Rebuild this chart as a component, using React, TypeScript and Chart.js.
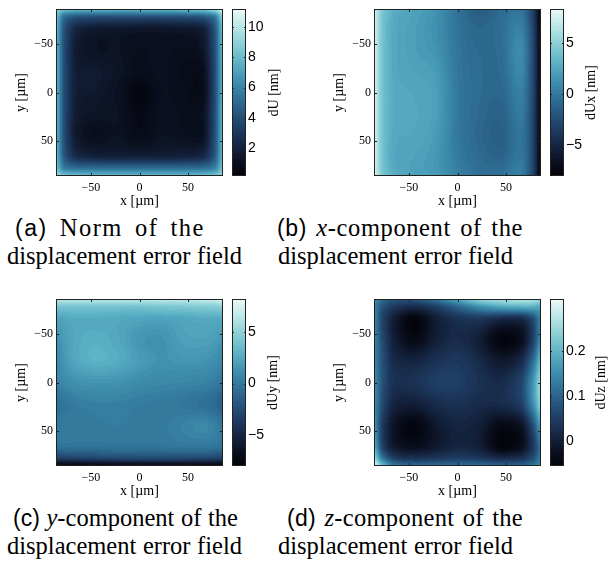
import React, { useEffect, useRef } from 'react';
import { Chart, registerables } from 'chart.js';
Chart.register(...registerables);

// ---- data ----
const gridX = [-86, -78, -66, -45, -22, 0, 22, 45, 66, 78, 86];
const gridY = [-86, -78, -66, -45, -22, 0, 22, 45, 66, 78, 86];
const axisTicks = [-50, 0, 50];
const axisRange = [-86, 86];

// rows: y from -86 (top) to 86 (bottom); cols: x from -86 to 86
const dU = [
  [9.0, 8.2, 7.8, 7.7, 7.7, 7.7, 7.8, 8.0, 8.4, 9.2, 10.4],
  [8.2, 5.2, 4.2, 4.0, 3.9, 3.9, 3.9, 4.0, 4.3, 5.6, 9.0],
  [7.8, 4.2, 2.2, 1.6, 1.5, 1.4, 1.4, 1.5, 1.9, 4.3, 8.2],
  [7.7, 4.0, 1.7, 1.2, 1.2, 1.0, 1.1, 1.0, 1.4, 4.1, 7.9],
  [7.7, 4.0, 1.8, 1.6, 1.3, 0.9, 1.1, 0.8, 1.0, 3.9, 7.9],
  [7.7, 4.0, 1.8, 1.5, 1.1, 0.4, 1.0, 0.9, 0.9, 3.9, 7.9],
  [7.7, 4.0, 1.7, 1.3, 1.2, 0.6, 1.1, 1.0, 1.2, 4.0, 7.9],
  [7.7, 4.0, 1.6, 1.0, 1.2, 0.8, 1.2, 1.1, 1.2, 4.1, 7.9],
  [7.8, 4.4, 2.5, 2.0, 1.9, 1.9, 1.9, 2.0, 2.4, 4.5, 8.0],
  [8.3, 5.8, 5.2, 5.1, 5.1, 5.1, 5.1, 5.1, 5.2, 6.0, 8.4],
  [9.2, 8.4, 8.0, 7.9, 7.9, 7.9, 7.9, 7.9, 8.0, 8.4, 9.2],
];
const dUx = [
  [7.5, 4.5, 2.9, 2.2, 1.4, -0.3, -1.6, -0.8, -0.3, -3.5, -7.8],
  [7.5, 4.3, 2.7, 2.1, 1.3, -0.4, -1.4, -0.7, -0.1, -3.3, -7.8],
  [7.5, 4.3, 2.6, 2.0, 1.2, -0.3, -1.1, -0.6, 0.4, -3.0, -7.6],
  [7.5, 4.2, 2.6, 2.0, 1.4, -0.2, -0.9, -0.7, 0.9, -2.8, -7.5],
  [7.5, 4.2, 2.6, 2.2, 1.8, -0.1, -0.8, -0.8, 0.7, -2.8, -7.5],
  [7.5, 4.2, 2.7, 2.4, 2.0, 0.0, -0.8, -1.0, 0.3, -2.9, -7.5],
  [7.5, 4.2, 2.7, 2.5, 2.0, 0.0, -0.9, -1.3, 0.0, -3.0, -7.5],
  [7.5, 4.2, 2.6, 2.4, 1.8, 0.0, -1.0, -1.5, -0.3, -3.0, -7.6],
  [7.5, 4.2, 2.5, 2.2, 1.6, 0.1, -0.8, -1.2, -0.2, -3.0, -7.7],
  [7.5, 4.3, 2.6, 2.1, 1.6, 0.3, -0.6, -0.7, 0.1, -3.0, -7.8],
  [7.5, 4.5, 2.9, 2.2, 1.8, 0.5, -0.4, -0.4, 0.2, -3.2, -8.0],
];
const dUy = [
  [6.5, 6.5, 6.5, 6.5, 6.5, 6.5, 6.5, 6.5, 6.8, 7.0, 7.5],
  [4.0, 4.0, 4.0, 4.0, 4.0, 4.0, 4.2, 4.3, 4.5, 4.6, 4.8],
  [2.2, 2.4, 2.6, 2.6, 2.5, 2.3, 2.2, 2.4, 2.6, 2.6, 2.6],
  [1.2, 1.8, 2.5, 2.8, 2.4, 1.5, 1.3, 2.0, 2.1, 1.9, 1.4],
  [0.8, 1.5, 2.4, 2.9, 2.6, 1.8, 1.3, 1.5, 1.4, 1.1, 0.6],
  [0.4, 0.8, 1.2, 1.4, 1.3, 0.9, 0.7, 0.6, 0.4, 0.1, -0.3],
  [-0.6, -0.3, 0.1, 0.3, 0.3, 0.1, 0.0, -0.2, -0.5, -0.9, -1.6],
  [0.0, 0.1, 0.0, 0.0, 0.1, 0.0, 0.0, 0.4, 0.7, 0.3, -0.1],
  [-0.5, -0.4, -0.4, -0.4, -0.3, -0.3, -0.3, -0.2, -0.2, -0.3, -0.5],
  [-3.4, -3.3, -3.2, -3.0, -2.8, -2.7, -2.7, -2.8, -2.9, -3.1, -3.3],
  [-7.8, -7.8, -7.8, -7.7, -7.6, -7.6, -7.6, -7.6, -7.7, -7.8, -8.0],
];
const dUz = [
  [0.15, 0.11, 0.08, 0.08, 0.12, 0.18, 0.24, 0.26, 0.27, 0.27, 0.25],
  [0.14, 0.08, 0.04, 0.02, 0.05, 0.10, 0.15, 0.18, 0.19, 0.19, 0.18],
  [0.14, 0.06, 0.00, -0.05, 0.00, 0.03, 0.04, 0.02, 0.02, 0.07, 0.14],
  [0.14, 0.07, 0.00, -0.04, 0.00, 0.02, 0.00, -0.05, -0.03, 0.05, 0.15],
  [0.14, 0.08, 0.02, 0.01, 0.03, 0.04, 0.02, -0.01, 0.02, 0.11, 0.21],
  [0.15, 0.08, 0.03, 0.03, 0.05, 0.05, 0.03, 0.02, 0.06, 0.16, 0.25],
  [0.15, 0.07, 0.01, 0.00, 0.02, 0.03, 0.02, 0.02, 0.05, 0.15, 0.24],
  [0.16, 0.05, -0.02, -0.05, -0.01, 0.01, 0.00, -0.04, -0.02, 0.07, 0.17],
  [0.19, 0.06, -0.01, -0.03, -0.01, 0.01, 0.00, -0.05, -0.03, 0.04, 0.12],
  [0.25, 0.13, 0.05, 0.03, 0.04, 0.05, 0.04, 0.02, 0.03, 0.07, 0.13],
  [0.31, 0.22, 0.13, 0.11, 0.11, 0.11, 0.11, 0.10, 0.10, 0.12, 0.15],
];

const dURange = [0.15, 11.2];
const dUxRange = [-8.0, 8.3];
const dUyRange = [-8.0, 8.2];
const dUzRange = [-0.056, 0.316];

const dUTicks = [2, 4, 6, 8, 10];
const dUxTicks = [-5, 0, 5];
const dUyTicks = [-5, 0, 5];
const dUzTicks = [0, 0.1, 0.2];

// ---- style ----
const SERIF = "'Liberation Serif', 'Times New Roman', serif";
const SANS = "'Liberation Sans', Arial, sans-serif";
const cmapStops: [number, number, number, number][] = [
  [0.0, 3, 4, 10],
  [0.08, 10, 15, 30],
  [0.17, 20, 35, 62],
  [0.27, 30, 58, 96],
  [0.37, 38, 85, 126],
  [0.47, 48, 115, 152],
  [0.57, 64, 145, 176],
  [0.67, 90, 176, 196],
  [0.77, 130, 203, 212],
  [0.88, 180, 228, 228],
  [1.0, 238, 250, 250],
];
const LEVELS = 64;

function cmap(t: number): [number, number, number] {
  t = Math.max(0, Math.min(1, t));
  let k = Math.floor(t * LEVELS);
  if (k >= LEVELS) k = LEVELS - 1;
  const q = (k + 0.5) / LEVELS;
  for (let i = 1; i < cmapStops.length; i++) {
    const a = cmapStops[i - 1], b = cmapStops[i];
    if (q <= b[0]) {
      const u = (q - a[0]) / (b[0] - a[0]);
      return [a[1] + (b[1] - a[1]) * u, a[2] + (b[2] - a[2]) * u, a[3] + (b[3] - a[3]) * u];
    }
  }
  const l = cmapStops[cmapStops.length - 1];
  return [l[1], l[2], l[3]];
}

function fracIndex(g: number[], v: number) {
  if (v <= g[0]) return 0;
  for (let i = 1; i < g.length; i++) {
    if (v <= g[i]) return i - 1 + (v - g[i - 1]) / (g[i] - g[i - 1]);
  }
  return g.length - 1;
}
function cr(p0: number, p1: number, p2: number, p3: number, t: number) {
  return 0.5 * (2 * p1 + (-p0 + p2) * t + (2 * p0 - 5 * p1 + 4 * p2 - p3) * t * t + (-p0 + 3 * p1 - 3 * p2 + p3) * t * t * t);
}
function sample(z: number[][], fy: number, fx: number) {
  const ny = z.length, nx = z[0].length;
  const iy = Math.min(Math.floor(fy), ny - 2), ix = Math.min(Math.floor(fx), nx - 2);
  const ty = fy - iy, tx = fx - ix;
  const cy = (i: number) => Math.max(0, Math.min(ny - 1, i));
  const cx = (i: number) => Math.max(0, Math.min(nx - 1, i));
  const rows: number[] = [];
  for (let k = -1; k <= 2; k++) {
    const r = z[cy(iy + k)];
    rows.push(cr(r[cx(ix - 1)], r[cx(ix)], r[cx(ix + 1)], r[cx(ix + 2)], tx));
  }
  return cr(rows[0], rows[1], rows[2], rows[3], ty);
}

const fmt = (v: number) => (v < 0 ? '\u2212' + String(Math.abs(v)) : String(v));
const zeroPad = (s: any) => { s.paddingTop = 0; s.paddingBottom = 0; s.paddingLeft = 0; s.paddingRight = 0; };

const heatPlugin = {
  id: 'heat',
  beforeDatasetsDraw(chart: any) {
    const { ctx, chartArea: ca, scales } = chart;
    const ds = chart.data.datasets[0];
    const z: number[][] = ds.grid;
    const gx: number[] = ds.gridX, gy: number[] = ds.gridY;
    const [vmin, vmax] = ds.range;
    const w = Math.round(ca.right - ca.left), h = Math.round(ca.bottom - ca.top);
    const off = document.createElement('canvas');
    off.width = w; off.height = h;
    const octx = off.getContext('2d')!;
    const img = octx.createImageData(w, h);
    const fx = new Float64Array(w), fy = new Float64Array(h);
    for (let i = 0; i < w; i++) fx[i] = fracIndex(gx, scales.x.getValueForPixel(ca.left + i + 0.5));
    for (let j = 0; j < h; j++) fy[j] = fracIndex(gy, scales.y.getValueForPixel(ca.top + j + 0.5));
    for (let j = 0; j < h; j++) {
      for (let i = 0; i < w; i++) {
        const v = sample(z, fy[j], fx[i]);
        const c = cmap((v - vmin) / (vmax - vmin));
        const p = (j * w + i) * 4;
        img.data[p] = c[0]; img.data[p + 1] = c[1]; img.data[p + 2] = c[2]; img.data[p + 3] = 255;
      }
    }
    octx.putImageData(img, 0, 0);
    ctx.drawImage(off, ca.left, ca.top);
  },
  afterDraw(chart: any, _a: any, opts: any) {
    const { ctx, chartArea: ca, scales } = chart;
    const ds = chart.data.datasets[0];
    const [vmin, vmax] = ds.range;
    const cb = scales.cb;
    ctx.save();
    ctx.strokeStyle = '#222';
    ctx.lineWidth = 1;
    ctx.strokeRect(Math.round(ca.left) + 0.5, Math.round(ca.top) + 0.5, Math.round(ca.right - ca.left) - 1, Math.round(ca.bottom - ca.top) - 1);
    ctx.beginPath();
    for (const t of axisTicks) {
      const px = Math.round(scales.x.getPixelForValue(t)) + 0.5;
      ctx.moveTo(px, ca.top); ctx.lineTo(px, ca.top + 3);
      ctx.moveTo(px, ca.bottom); ctx.lineTo(px, ca.bottom - 3);
      const py = Math.round(scales.y.getPixelForValue(t)) + 0.5;
      ctx.moveTo(ca.left, py); ctx.lineTo(ca.left + 3, py);
      ctx.moveTo(ca.right, py); ctx.lineTo(ca.right - 3, py);
    }
    ctx.stroke();
    const cbL = Math.round(ca.right + opts.cbGap);
    const cbW = opts.cbWidth;
    for (let py = Math.round(ca.top); py < Math.round(ca.bottom); py++) {
      const v = cb.getValueForPixel(py + 0.5);
      const c = cmap((v - vmin) / (vmax - vmin));
      ctx.fillStyle = `rgb(${c[0] | 0},${c[1] | 0},${c[2] | 0})`;
      ctx.fillRect(cbL, py, cbW, 1);
    }
    ctx.strokeRect(cbL + 0.5, Math.round(ca.top) + 0.5, cbW - 1, Math.round(ca.bottom - ca.top) - 1);
    ctx.beginPath();
    for (const tk of cb.ticks) {
      const py = Math.round(cb.getPixelForValue(tk.value)) + 0.5;
      ctx.moveTo(cbL, py); ctx.lineTo(cbL + 2, py);
      ctx.moveTo(cbL + cbW, py); ctx.lineTo(cbL + cbW - 2, py);
    }
    ctx.stroke();
    ctx.translate(ca.right + opts.cbTitleOffset, (ca.top + ca.bottom) / 2);
    ctx.rotate(-Math.PI / 2);
    ctx.fillStyle = '#000';
    ctx.font = `14px ${SERIF}`;
    ctx.textAlign = 'center';
    ctx.textBaseline = 'middle';
    ctx.fillText(opts.cbTitle, 0, 0);
    ctx.restore();
  },
};

type PanelProps = {
  left: number; top: number; width: number;
  field: number[][]; range: number[]; cbTicks: number[]; cbTitle: string; cbTitleOffset: number;
};

const CANVAS_H = 210;
const PLOT_LEFT = 56;
const PLOT_W = 167;
const PLOT_TOP = 9;
const PLOT_H = 167;

function Panel({ left, top, width, field, range, cbTicks, cbTitle, cbTitleOffset }: PanelProps) {
  const ref = useRef<HTMLCanvasElement>(null);
  useEffect(() => {
    const points: { x: number; y: number; v: number }[] = [];
    field.forEach((row, i) => row.forEach((v, j) => points.push({ x: gridX[j], y: gridY[i], v })));
    const axisFont = { family: SERIF, size: 12 };
    const titleFont = { family: SERIF, size: 14 };
    const noGrid = { display: false, drawTicks: false };
    const chart = new Chart(ref.current!, {
      type: 'scatter',
      data: {
        datasets: [{
          data: points, pointRadius: 0, pointHoverRadius: 0,
          grid: field, gridX, gridY, range,
        } as any],
      },
      options: {
        responsive: false,
        animation: false,
        devicePixelRatio: 1,
        events: [],
        layout: { padding: { top: PLOT_TOP, left: 0, right: 0, bottom: 0 } },
        plugins: {
          legend: { display: false },
          tooltip: { enabled: false },
          heat: { cbGap: 9, cbWidth: 14, cbTitle, cbTitleOffset },
        } as any,
        scales: {
          x: {
            type: 'linear', position: 'bottom', min: axisRange[0], max: axisRange[1],
            grid: noGrid, border: { display: false },
            ticks: { font: axisFont, color: '#000', padding: 5, autoSkip: false, maxRotation: 0, callback: (v: any) => fmt(v) },
            afterBuildTicks: (s: any) => { s.ticks = axisTicks.map((v) => ({ value: v })); },
            afterFit: (s: any) => { s.height = CANVAS_H - PLOT_TOP - PLOT_H; zeroPad(s); },
            title: { display: true, text: 'x [\u00b5m]', font: titleFont, color: '#000', padding: { top: 0, bottom: 0.6 } },
          },
          y: {
            type: 'linear', position: 'left', reverse: true, min: axisRange[0], max: axisRange[1],
            grid: noGrid, border: { display: false },
            ticks: { font: axisFont, color: '#000', padding: 3, autoSkip: false, callback: (v: any) => fmt(v) },
            afterBuildTicks: (s: any) => { s.ticks = axisTicks.map((v) => ({ value: v })); },
            afterFit: (s: any) => { s.width = PLOT_LEFT; zeroPad(s); },
            title: { display: true, text: 'y [\u00b5m]', font: titleFont, color: '#000', padding: { top: 12.6, bottom: 0 } },
          },
          cb: {
            type: 'linear', position: 'right', min: range[0], max: range[1],
            grid: noGrid, border: { display: false },
            ticks: { font: { family: SANS, size: 14 }, color: '#000', padding: 25, autoSkip: false, callback: (v: any) => fmt(v) },
            afterBuildTicks: (s: any) => { s.ticks = cbTicks.map((v) => ({ value: v })); },
            afterFit: (s: any) => { s.width = width - PLOT_LEFT - PLOT_W; zeroPad(s); },
          },
        } as any,
      },
      plugins: [heatPlugin],
    });
    return () => chart.destroy();
  }, []);
  return (
    <canvas
      ref={ref}
      width={width}
      height={CANVAS_H}
      style={{ position: 'absolute', left, top, width, height: CANVAS_H }}
    />
  );
}

function Line({ x0, x1, top, ls = 0, children }: { x0: number; x1: number; top: number; ls?: number; children: React.ReactNode }) {
  return (
    <div
      style={{
        position: 'absolute', left: x0, width: x1 - x0, top, fontFamily: SERIF, fontSize: 24.5,
        lineHeight: '28px', whiteSpace: 'nowrap', color: '#000', textAlign: 'justify', textAlignLast: 'justify',
        letterSpacing: ls,
      } as React.CSSProperties}
    >
      {children}
    </div>
  );
}

const Lbl = ({ t }: { t: string }) => <span style={{ fontFamily: SANS, fontSize: 23 }}>({t})</span>;

export default function App() {
  return (
    <div style={{ position: 'absolute', left: 0, top: 0, width: 611, height: 570, background: '#fff', overflow: 'hidden' }}>
      <Panel left={0} top={0} width={300} field={dU} range={dURange} cbTicks={dUTicks} cbTitle="dU [nm]" cbTitleOffset={51} />
      <Panel left={318} top={0} width={293} field={dUx} range={dUxRange} cbTicks={dUxTicks} cbTitle="dUx [nm]" cbTitleOffset={50} />
      <Panel left={0} top={290} width={300} field={dUy} range={dUyRange} cbTicks={dUyTicks} cbTitle="dUy [nm]" cbTitleOffset={50} />
      <Panel left={318} top={290} width={293} field={dUz} range={dUzRange} cbTicks={dUzTicks} cbTitle="dUz [nm]" cbTitleOffset={60} />

      <Line x0={15} x1={205} top={213.5} ls={1.5}><Lbl t="a" /> Norm of the</Line>
      <Line x0={7} x1={242} top={242}>displacement error field</Line>
      <Line x0={277} x1={523} top={213.5} ls={0.6}><Lbl t="b" /> <i>x</i>-component of the</Line>
      <Line x0={278} x1={513} top={242}>displacement error field</Line>

      <Line x0={13} x1={238} top={503.5}><Lbl t="c" /> <i>y</i>-component of the</Line>
      <Line x0={7} x1={242} top={532}>displacement error field</Line>
      <Line x0={287} x1={523} top={503.5} ls={0.3}><Lbl t="d" /> <i>z</i>-component of the</Line>
      <Line x0={278} x1={513} top={532}>displacement error field</Line>
    </div>
  );
}
